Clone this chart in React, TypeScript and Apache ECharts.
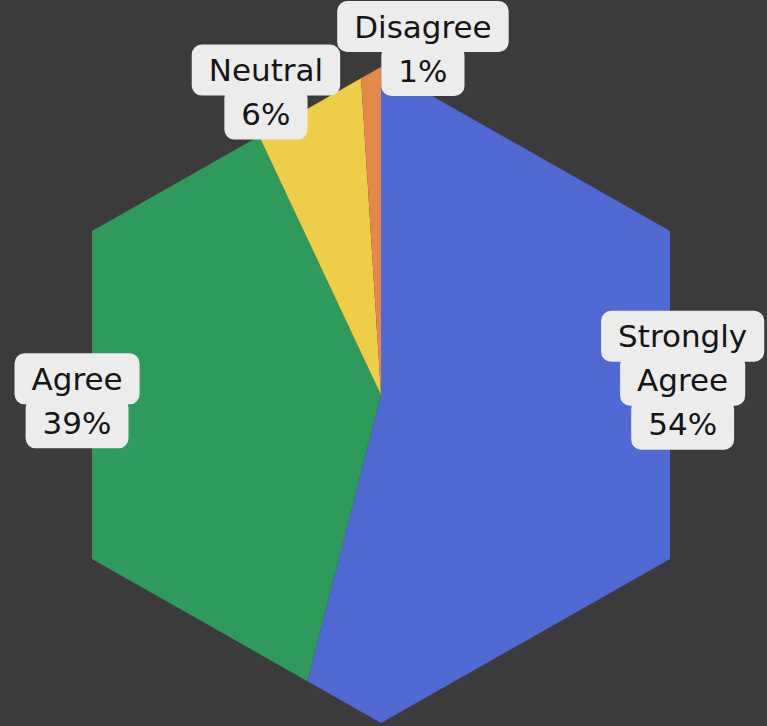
import React, { useEffect, useRef } from "react";
import * as echarts from "echarts";

// ---- data ----
const categories = ["Strongly Agree", "Agree", "Neutral", "Disagree"];
const labelTexts = ["Strongly\nAgree", "Agree", "Neutral", "Disagree"];
const percents = [54, 39, 6, 1];
const colors = ["#5169D4", "#2E9A5C", "#EECD47", "#E5884A"];

// ---- style ----
const BG = "#3b3b3b";
const CX = 381;
const CY = 395;
const HALF_H = 328;
const HALF_W = 289;
const labelAngleShift = [-10, 4.3, -6.4, 8.7];
const labelRadius = [302, 304, 324, 349];
const LINE_H = 44;

type P = [number, number];
const verts: P[] = [
  [0, -HALF_H],
  [HALF_W, -HALF_H / 2],
  [HALF_W, HALF_H / 2],
  [0, HALF_H],
  [-HALF_W, HALF_H / 2],
  [-HALF_W, -HALF_H / 2],
];
const angOf = (v: P) => {
  let a = (Math.atan2(v[0], -v[1]) * 180) / Math.PI;
  if (a < 0) a += 360;
  return a;
};
const cross = (a: P, b: P) => a[0] * b[1] - a[1] * b[0];
const boundary = (deg: number): P => {
  const r = (deg * Math.PI) / 180;
  const d: P = [Math.sin(r), -Math.cos(r)];
  for (let i = 0; i < 6; i++) {
    const a = verts[i];
    const b = verts[(i + 1) % 6];
    const e: P = [b[0] - a[0], b[1] - a[1]];
    const den = cross(d, e);
    if (Math.abs(den) < 1e-9) continue;
    const t = cross(a, e) / den;
    const s = cross(a, d) / den;
    if (t > 0 && s >= -1e-9 && s <= 1 + 1e-9) return [t * d[0], t * d[1]];
  }
  return [0, 0];
};

export default function App() {
  const ref = useRef<HTMLDivElement>(null);
  useEffect(() => {
    document.body.style.margin = "0";
    const chart = echarts.init(ref.current!, null, { renderer: "svg" });
    const total = percents.reduce((s, v) => s + v, 0);
    const starts: number[] = [];
    let acc = 0;
    percents.forEach((v) => {
      starts.push((acc / total) * 360);
      acc += v;
    });
    chart.setOption({
      animation: false,
      backgroundColor: BG,
      series: [
        {
          type: "custom",
          coordinateSystem: "none",
          data: percents.map((v, i) => ({ value: v, name: categories[i] })),
          renderItem: (params: any, api: any) => {
            const i = params.dataIndex;
            const v = api.value(0);
            const a0 = starts[i];
            const a1 = a0 + (v / total) * 360;
            const pts: number[][] = [[CX, CY]];
            const b0 = boundary(a0);
            pts.push([CX + b0[0], CY + b0[1]]);
            verts.forEach((vt) => {
              const av = angOf(vt);
              if (av > a0 + 1e-6 && av < a1 - 1e-6) pts.push([CX + vt[0], CY + vt[1]]);
            });
            const b1 = boundary(a1);
            pts.push([CX + b1[0], CY + b1[1]]);

            const mid = ((a0 + a1) / 2 + labelAngleShift[i]) * (Math.PI / 180);
            const lx = CX + labelRadius[i] * Math.sin(mid);
            const ly = CY - labelRadius[i] * Math.cos(mid);
            const lines = (labelTexts[i] + "\n" + Math.round((v / total) * 100) + "%").split("\n");
            const texts = lines.map((t, k) => ({
              type: "text",
              x: lx,
              y: ly + (k - (lines.length - 1) / 2) * LINE_H,
              z2: 100,
              style: {
                text: t,
                align: "center",
                verticalAlign: "middle",
                fontFamily: "DejaVu Sans",
                fontSize: 31,
                lineHeight: 30,
                fill: "#151515",
                backgroundColor: "#ECECEC",
                padding: [10, 17, 11, 17],
                borderRadius: 10,
              },
            }));
            return {
              type: "group",
              children: [
                {
                  type: "polygon",
                  z2: 1,
                  shape: { points: pts },
                  style: { fill: colors[i] },
                },
                ...texts,
              ],
            };
          },
        },
      ],
    });
    return () => chart.dispose();
  }, []);
  return <div ref={ref} style={{ width: 767, height: 726, background: BG }} />;
}
